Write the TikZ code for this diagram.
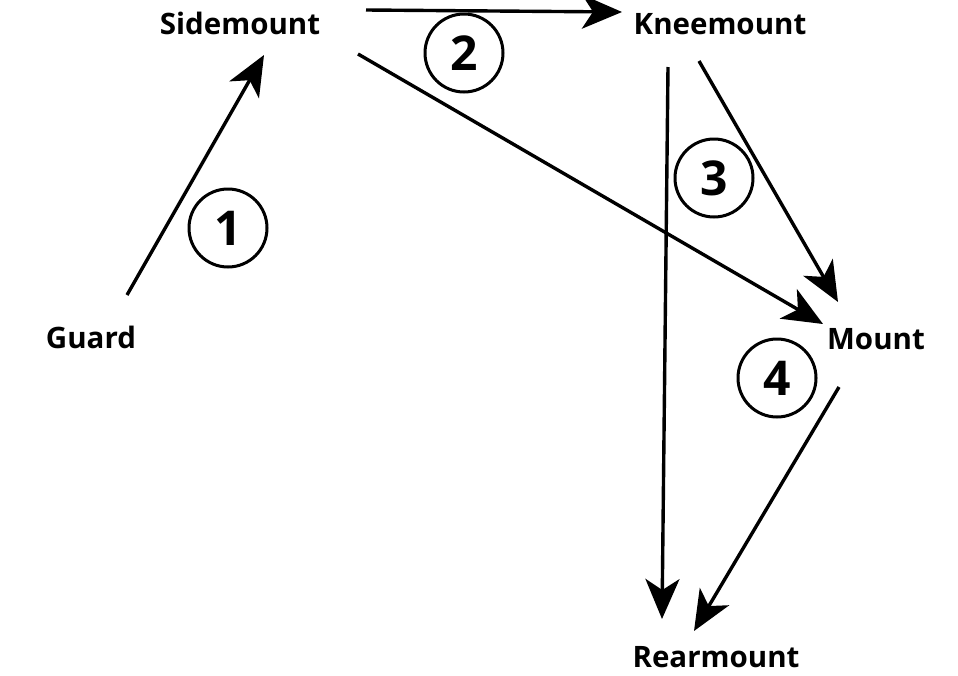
\documentclass[tikz,border=0pt]{standalone}
\usepackage{fontspec}
\setmainfont{Open Sans}
\usetikzlibrary{arrows.meta}
\begin{document}
\begin{tikzpicture}[x=1pt,y=-1pt,
  lbl/.style={font=\bfseries\fontsize{29.5}{32}\selectfont, inner sep=0pt},
  conn/.style={line width=3.4pt, -{Stealth[length=40pt,width=34pt,inset=11pt]}},
  numc/.style={circle, draw, line width=3pt, minimum size=78pt, inner sep=0pt,
    font=\bfseries\fontsize{48}{50}\selectfont}]
\useasboundingbox (0,0) rectangle (958,675);
\node[lbl] (S) at (240,23) {Sidemount};
\node[lbl] (K) at (720,24) {Kneemount};
\node[lbl] (G) at (91,337) {Guard};
\node[lbl] (M) at (876,339) {Mount};
\node[lbl] (R) at (716,657) {Rearmount};
\node[numc] (c1) at (228,228) {1};
\node[numc] (c2) at (464,53) {2};
\node[numc] (c3) at (714,178) {3};
\node[numc] (c4) at (777,378) {4};
\draw[conn] ([shift={(36,-42)}]G.center) -- ([shift={(24,32)}]S.center);
\draw[conn] ([shift={(126,-13)}]S.center) -- ([shift={(-98,-12)}]K.center);
\draw[conn] ([shift={(118,31)}]S.center) -- ([shift={(-53,-15)}]M.center);
\draw[conn] ([shift={(-52,43)}]K.center) -- ([shift={(-54,-38)}]R.center);
\draw[conn] ([shift={(-21,37)}]K.center) -- ([shift={(-38,-37)}]M.center);
\draw[conn] ([shift={(-37,48)}]M.center) -- ([shift={(-22,-26)}]R.center);
\end{tikzpicture}
\end{document}
